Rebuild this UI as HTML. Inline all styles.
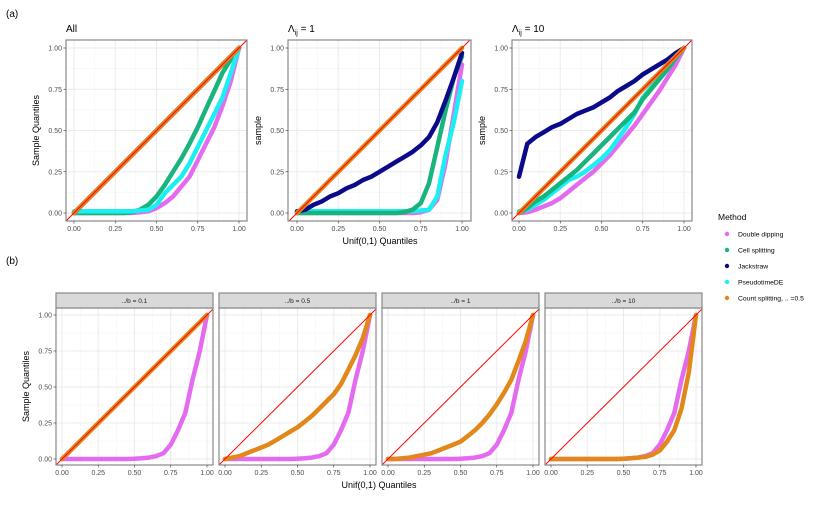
<!DOCTYPE html>
<html><head><meta charset="utf-8"><style>
body{margin:0;background:#fff;}
svg{font-family:"Liberation Sans",sans-serif;display:block}
</style></head><body>
<svg id="c" width="830" height="511" viewBox="0 0 830 511"></svg>
<script>
const P = [0,0.05,0.1,0.15,0.2,0.25,0.3,0.35,0.4,0.45,0.5,0.55,0.6,0.65,0.7,0.75,0.8,0.85,0.9,0.95,1];
const methods = ["Double dipping","Cell splitting","Jackstraw","PseudotimeDE","Count splitting, .. =0.5"];
const colors = ["#E46BF0","#17B47E","#0A0A8A","#1BEFF2","#E2871A"];
const ticks = [0,0.25,0.5,0.75,1];
const tickLabels = ["0.00","0.25","0.50","0.75","1.00"];
const diag = P.slice();
// panel (a) All
const allDD  = [0,0,0,0,0,0,0,0,0.005,0.01,0.03,0.06,0.1,0.16,0.22,0.32,0.42,0.52,0.65,0.8,1];
const allCS  = [0,0,0,0,0,0,0,0.005,0.02,0.05,0.1,0.17,0.25,0.33,0.42,0.52,0.63,0.74,0.85,0.93,1];
const allJS  = [0,0.05,0.1,0.15,0.2,0.25,0.3,0.35,0.4,0.45,0.5,0.55,0.6,0.65,0.7,0.75,0.8,0.85,0.9,0.95,1];
const allPT  = [0.01,0.01,0.01,0.01,0.01,0.01,0.01,0.01,0.015,0.02,0.05,0.12,0.17,0.22,0.3,0.4,0.5,0.6,0.7,0.85,1];
const allCT  = diag;
// panel (a) Lambda=1
const l1DD = [0,0,0,0,0,0,0,0,0,0,0,0,0,0,0,0.005,0.02,0.08,0.3,0.6,0.9];
const l1CS = [0,0,0,0,0,0,0,0,0,0,0,0,0,0.005,0.02,0.06,0.18,0.4,0.62,0.82,0.95];
const l1JS = [0.01,0.02,0.05,0.07,0.1,0.12,0.15,0.17,0.2,0.22,0.25,0.28,0.31,0.34,0.37,0.41,0.46,0.55,0.68,0.82,0.97];
const l1PT = [0.01,0.01,0.01,0.01,0.01,0.01,0.01,0.01,0.01,0.01,0.01,0.01,0.01,0.01,0.01,0.015,0.02,0.1,0.35,0.55,0.8];
const l1CT = diag;
// panel (a) Lambda=10
const l10DD = [0,0.005,0.02,0.04,0.06,0.09,0.13,0.17,0.21,0.25,0.3,0.35,0.41,0.47,0.53,0.6,0.67,0.74,0.82,0.9,1];
const l10CS = [0,0.03,0.07,0.1,0.14,0.18,0.22,0.26,0.31,0.36,0.41,0.46,0.51,0.56,0.61,0.69,0.75,0.81,0.87,0.94,1];
const l10JS = [0.22,0.42,0.46,0.49,0.52,0.54,0.57,0.6,0.62,0.64,0.67,0.7,0.74,0.77,0.8,0.84,0.87,0.9,0.93,0.97,1];
const l10PT = [0.01,0.02,0.05,0.08,0.12,0.16,0.2,0.22,0.25,0.29,0.33,0.38,0.45,0.52,0.6,0.7,0.76,0.82,0.88,0.94,1];
const l10CT = diag;
// panel (b)
const bDD   = [0,0,0,0,0,0,0,0,0,0,0.002,0.005,0.01,0.02,0.04,0.1,0.2,0.32,0.55,0.75,1];
const b01CT = diag;
const b05CT = [0,0.01,0.02,0.04,0.06,0.08,0.1,0.13,0.16,0.19,0.22,0.26,0.3,0.35,0.4,0.45,0.52,0.62,0.72,0.84,1];
const b1CT  = [0,0,0.005,0.01,0.02,0.03,0.04,0.06,0.08,0.1,0.12,0.16,0.2,0.25,0.31,0.38,0.46,0.55,0.68,0.82,1];
const b10CT = [0,0,0,0,0,0,0,0,0,0,0.002,0.005,0.01,0.015,0.03,0.06,0.12,0.2,0.35,0.6,1];

const svg = document.getElementById('c');
const NS = 'http://www.w3.org/2000/svg';
function mk(tag, attrs, parent, text){
  const e = document.createElementNS(NS, tag);
  for (const k in attrs) e.setAttribute(k, attrs[k]);
  if (text !== undefined) e.textContent = text;
  (parent||svg).appendChild(e); return e;
}
let clipId = 0;
function panel(o){
  const g = mk('g', {});
  
  
  const sx = v => o.x0 + v*(o.x1-o.x0);
  const sy = v => o.y0 + v*(o.y1-o.y0);
  mk('rect',{x:o.L,y:o.T,width:o.R-o.L,height:o.B-o.T,fill:'#fff'},g);
  for (let i=0;i<4;i++){ const v=0.125+0.25*i;
    mk('line',{x1:sx(v),x2:sx(v),y1:o.T,y2:o.B,stroke:'#f3f3f3','stroke-width':0.5},g);
    mk('line',{x1:o.L,x2:o.R,y1:sy(v),y2:sy(v),stroke:'#f3f3f3','stroke-width':0.5},g);}
  ticks.forEach(v=>{
    mk('line',{x1:sx(v),x2:sx(v),y1:o.T,y2:o.B,stroke:'#ebebeb','stroke-width':1},g);
    mk('line',{x1:o.L,x2:o.R,y1:sy(v),y2:sy(v),stroke:'#ebebeb','stroke-width':1},g);
  });
  const id='cl'+(clipId++);
  const cp = mk('clipPath',{id:id},g);
  mk('rect',{x:o.L,y:o.T,width:o.R-o.L,height:o.B-o.T},cp);
  const dg = mk('g',{'clip-path':'url(#'+id+')'},g);
  o.series.forEach(s=>{
    const pts = P.map((p,i)=>sx(p).toFixed(1)+','+sy(s.v[i]).toFixed(1)).join(' ');
    const pl = mk('polyline',{points:pts,fill:'none',stroke:colors[s.m],'stroke-width':4.5,'stroke-linecap':'round','stroke-linejoin':'round'},dg);
    
    
  });
  mk('line',{x1:sx(-0.2),y1:sy(-0.2),x2:sx(1.2),y2:sy(1.2),stroke:'#ff0000','stroke-width':1},dg);
  mk('rect',{x:o.L,y:o.T,width:o.R-o.L,height:o.B-o.T,fill:'none',stroke:'#888','stroke-width':1.2},g);
  ticks.forEach((v,i)=>{
    mk('line',{x1:sx(v),x2:sx(v),y1:o.B,y2:o.B+2.5,stroke:'#333','stroke-width':0.6},g);
    mk('text',{x:sx(v),y:o.B+10,'font-size':7,'text-anchor':'middle',fill:'#4d4d4d'},g,tickLabels[i]);
    if (!o.noY){
      mk('line',{x1:o.L-2.5,x2:o.L,y1:sy(v),y2:sy(v),stroke:'#333','stroke-width':0.6},g);
      mk('text',{x:o.L-4,y:sy(v)+2.5,'font-size':7,'text-anchor':'end',fill:'#4d4d4d'},g,tickLabels[i]);
    }
  });
  if (o.ylab){
    const t = mk('text',{x:o.L-27,y:(o.T+o.B)/2,'font-size':9,'text-anchor':'middle',transform:`rotate(-90 ${o.L-27} ${(o.T+o.B)/2})`},g,o.ylab);
     
  }
  if (o.strip){
    mk('rect',{x:o.L,y:o.T-15,width:o.R-o.L,height:15,fill:'#d9d9d9',stroke:'#888','stroke-width':1.2},g);
    mk('text',{x:(o.L+o.R)/2,y:o.T-5,'font-size':6.5,'text-anchor':'middle',fill:'#1a1a1a'},g,o.strip);
  }
}
const topRow = {T:40,B:221,y0:213,y1:48};
panel(Object.assign({name:'panel-all',L:66,R:247,x0:74,x1:239,ylab:'Sample Quantiles',
  series:[{m:0,v:allDD},{m:1,v:allCS},{m:3,v:allPT},{m:2,v:allJS},{m:4,v:allCT}]},topRow));
panel(Object.assign({name:'panel-lambda-1',L:288,R:471,x0:297,x1:462,ylab:'sample',
  series:[{m:0,v:l1DD},{m:3,v:l1PT},{m:1,v:l1CS},{m:2,v:l1JS},{m:4,v:l1CT}]},topRow));
panel(Object.assign({name:'panel-lambda-10',L:512,R:692,x0:519,x1:684,ylab:'sample',
  series:[{m:0,v:l10DD},{m:3,v:l10PT},{m:1,v:l10CS},{m:2,v:l10JS},{m:4,v:l10CT}]},topRow));
const botRow = {T:308,B:465,y0:459,y1:315};
const bs = [[56,213,'../b = 0.1',b01CT],[219,376,'../b = 0.5',b05CT],[382,539,'../b = 1',b1CT],[545,702,'../b = 10',b10CT]];
bs.forEach((b,i)=>{
  panel(Object.assign({name:'panel-b-'+i,L:b[0],R:b[1],x0:b[0]+6,x1:b[1]-6,strip:b[2],ylab:i===0?'Sample Quantiles':null,noY:i>0,
    series:[{m:0,v:bDD},{m:4,v:b[3]}]},botRow));
});
function txt(x,y,s,size,name,extra){
  const t = mk('text',Object.assign({x:x,y:y,'font-size':size,fill:'#000'},extra||{}),svg,s);
    return t;
}
txt(6,17,'(a)',10,'label-a');
txt(6,264,'(b)',10,'label-b');
txt(66,32,'All',10,'title-all');
const t2 = txt(288,32,'',10,'title-lambda-1');
t2.innerHTML='Λ<tspan font-size="7" dy="3">ij</tspan><tspan dy="-3"> = 1</tspan>';
const t3 = txt(512,32,'',10,'title-lambda-10');
t3.innerHTML='Λ<tspan font-size="7" dy="3">ij</tspan><tspan dy="-3"> = 10</tspan>';
txt(380,244,'Unif(0,1) Quantiles',9,'x-axis-title-top',{'text-anchor':'middle'});
txt(379,488,'Unif(0,1) Quantiles',9,'x-axis-title-bottom',{'text-anchor':'middle'});
const lg = mk('g',{});
 
mk('text',{x:718,y:220,'font-size':8.5},lg,'Method');
methods.forEach((m,i)=>{
  const y = 234 + i*16;
  const c = mk('circle',{cx:727,cy:y,r:2.2,fill:colors[i]},lg);
   
  const t = mk('text',{x:738,y:y+2.5,'font-size':6.8},lg,m);
   
});
</script>
</body></html>
